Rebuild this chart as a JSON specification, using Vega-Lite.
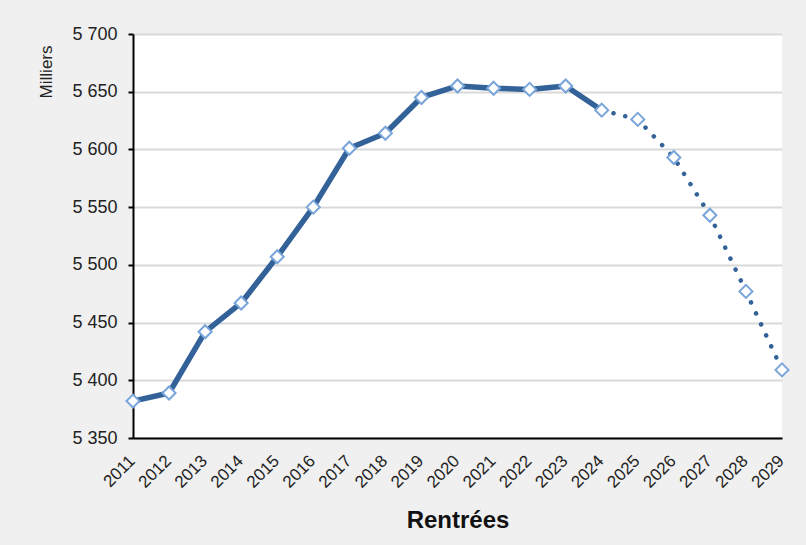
{
  "$schema": "https://vega.github.io/schema/vega-lite/v6.json",
  "width": 649,
  "height": 404,
  "autosize": {"type": "none"},
  "padding": {"left": 133, "top": 34, "right": 24, "bottom": 107},
  "background": "#f0f0f0",
  "config": {
    "view": {"fill": "white", "stroke": null},
    "font": "Liberation Sans"
  },
  "data": {
    "values": [
      {"annee": "2011", "effectif": 5382},
      {"annee": "2012", "effectif": 5389},
      {"annee": "2013", "effectif": 5442},
      {"annee": "2014", "effectif": 5467},
      {"annee": "2015", "effectif": 5507},
      {"annee": "2016", "effectif": 5550},
      {"annee": "2017", "effectif": 5601},
      {"annee": "2018", "effectif": 5614},
      {"annee": "2019", "effectif": 5645},
      {"annee": "2020", "effectif": 5655},
      {"annee": "2021", "effectif": 5653},
      {"annee": "2022", "effectif": 5652},
      {"annee": "2023", "effectif": 5655},
      {"annee": "2024", "effectif": 5634},
      {"annee": "2025", "effectif": 5626},
      {"annee": "2026", "effectif": 5593},
      {"annee": "2027", "effectif": 5543},
      {"annee": "2028", "effectif": 5477},
      {"annee": "2029", "effectif": 5409}
    ]
  },
  "encoding": {
    "x": {
      "field": "annee",
      "type": "ordinal",
      "scale": {"type": "point", "padding": 0},
      "axis": {
        "title": "Rentrées",
        "titleFontSize": 24,
        "titleFontWeight": "bold",
        "titleColor": "#111",
        "titleBaseline": "alphabetic",
        "titleY": 89,
        "labelAngle": -45,
        "labelAlign": "right",
        "labelBaseline": "middle",
        "labelPadding": 20,
        "labelOffset": -1,
        "labelFontSize": 17,
        "labelColor": "#222",
        "labelOverlap": false,
        "ticks": false,
        "domainColor": "#000",
        "domainWidth": 2,
        "grid": false
      }
    },
    "y": {
      "field": "effectif",
      "type": "quantitative",
      "scale": {"domain": [5350, 5700], "nice": false, "zero": false},
      "axis": {
        "title": "Milliers",
        "titleFontSize": 17,
        "titleFontWeight": "normal",
        "titleColor": "#222",
        "titleAngle": -90,
        "titleAlign": "right",
        "titleBaseline": "middle",
        "titleX": -87,
        "titleY": 11,
        "values": [5350, 5400, 5450, 5500, 5550, 5600, 5650, 5700],
        "labelExpr": "replace(format(datum.value, ',d'), ',', ' ')",
        "labelFontSize": 18,
        "labelColor": "#222",
        "labelPadding": 11,
        "tickColor": "#000",
        "tickSize": 5,
        "tickWidth": 2,
        "domainColor": "#000",
        "domainWidth": 2,
        "grid": true,
        "gridColor": "#d9d9d9",
        "gridWidth": 2
      }
    }
  },
  "layer": [
    {
      "transform": [{"filter": "toNumber(datum.annee) <= 2024"}],
      "mark": {"type": "line", "color": "#336299", "strokeWidth": 5.5, "strokeJoin": "round"}
    },
    {
      "transform": [{"filter": "toNumber(datum.annee) >= 2024"}],
      "mark": {"type": "line", "color": "#336299", "strokeWidth": 4.5, "strokeCap": "round", "strokeDash": [0.1, 12]}
    },
    {
      "mark": {"type": "point", "shape": "diamond", "size": 170, "filled": true, "fill": "white", "stroke": "#7aa5da", "strokeWidth": 2, "opacity": 1}
    }
  ]
}
